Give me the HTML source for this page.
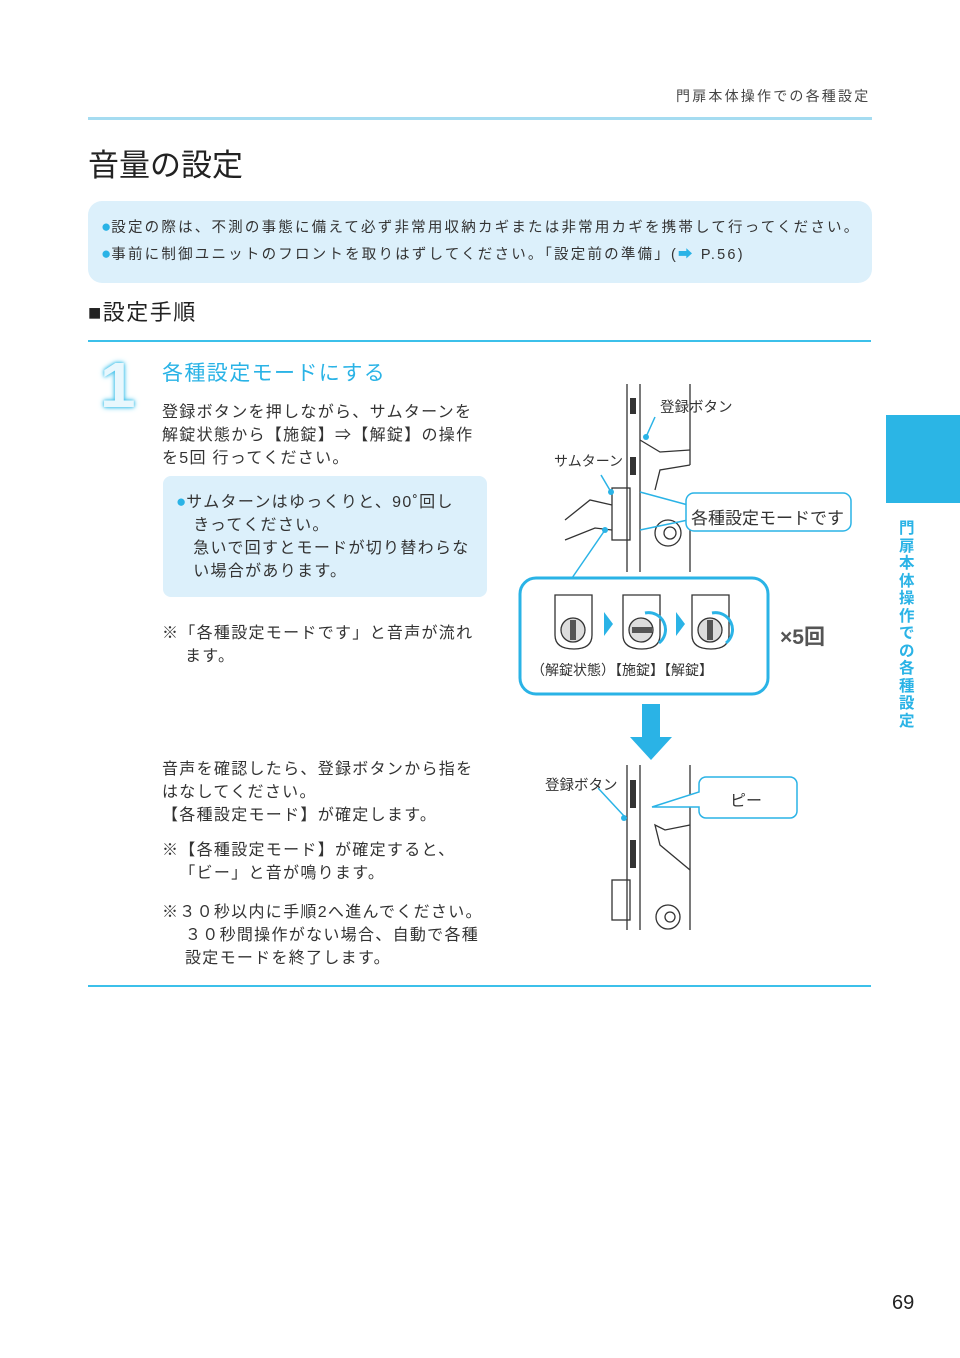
<!DOCTYPE html>
<html><head><meta charset="utf-8"><style>
body{margin:0;background:#fff;}
#p{position:relative;width:960px;height:1358px;overflow:hidden;font-family:"Liberation Sans","Noto Sans CJK JP",sans-serif;color:#333;}
.a{position:absolute;white-space:nowrap;}
.t{font-size:16px;letter-spacing:1.3px;line-height:23px;color:#333;}
.b{color:#2ab3e6;font-size:17px;letter-spacing:0;}
</style></head><body><div id="p">
<div class="a" style="left:676px;top:86px;font-size:14px;letter-spacing:2.2px;color:#444;">門扉本体操作での各種設定</div>
<div class="a" style="left:88px;top:117px;width:784px;height:3px;background:#8fd3ee;opacity:.8"></div>
<div class="a" style="left:88px;top:140px;font-size:31px;color:#222;">音量の設定</div>
<div class="a" style="left:88px;top:201px;width:784px;height:82px;background:#dcf0fb;border-radius:14px;"></div>
<div class="a" style="left:101px;top:214px;font-size:14.5px;letter-spacing:2.2px;line-height:25px;color:#333;"><span class="b">●</span>設定の際は、不測の事態に備えて必ず非常用収納カギまたは非常用カギを携帯して行ってください。<br><span class="b">●</span>事前に制御ユニットのフロントを取りはずしてください。「設定前の準備」(<span style="color:#2ab3e6">➡</span> P.56)</div>
<div class="a" style="left:88px;top:295px;font-size:22px;letter-spacing:1.5px;color:#222;">■設定手順</div>
<div class="a" style="left:88px;top:340px;width:783px;height:2px;background:#3cc0ea"></div>
<div class="a" style="left:88px;top:985px;width:783px;height:2px;background:#3cc0ea"></div>
<div class="a" style="left:100px;top:350px;font-size:64px;font-weight:bold;color:#e8f7fd;text-shadow:0 0 6px #3cc0ea,0 0 3px #3cc0ea;line-height:70px;">1</div>
<div class="a" style="left:162px;top:357px;font-size:21px;letter-spacing:1.4px;color:#2ab3e6;">各種設定モードにする</div>
<div class="a t" style="left:162px;top:401px;">登録ボタンを押しながら、サムターンを<br>解錠状態から【施錠】⇒【解錠】の操作<br>を5回 行ってください。</div>
<div class="a" style="left:163px;top:476px;width:324px;height:121px;background:#dcf0fb;border-radius:8px;"></div>
<div class="a t" style="left:176px;top:490px;"><span class="b">●</span>サムターンはゆっくりと、90˚回し<br>&nbsp;&nbsp;&nbsp;きってください。<br>&nbsp;&nbsp;&nbsp;急いで回すとモードが切り替わらな<br>&nbsp;&nbsp;&nbsp;い場合があります。</div>
<div class="a t" style="left:162px;top:622px;">※「各種設定モードです」と音声が流れ<br>&nbsp;&nbsp;&nbsp;&nbsp;ます。</div>
<div class="a t" style="left:162px;top:758px;">音声を確認したら、登録ボタンから指を<br>はなしてください。<br>【各種設定モード】が確定します。</div>
<div class="a t" style="left:162px;top:839px;">※【各種設定モード】が確定すると、<br>&nbsp;&nbsp;&nbsp;「ビー」と音が鳴ります。</div>
<div class="a t" style="left:162px;top:901px;">※３０秒以内に手順2へ進んでください。<br>&nbsp;&nbsp;&nbsp;&nbsp;３０秒間操作がない場合、自動で各種<br>&nbsp;&nbsp;&nbsp;&nbsp;設定モードを終了します。</div>
<div class="a" style="left:886px;top:415px;width:74px;height:88px;background:#2bb5e5"></div>
<div class="a" style="left:899px;top:520px;width:20px;font-size:15.5px;font-weight:bold;line-height:17.5px;color:#2ab3e6;white-space:normal;word-break:break-all;">門扉本体操作での各種設定</div>
<div class="a" style="left:892px;top:1292px;font-size:20px;color:#222;">69</div>
<svg class="a" style="left:0;top:0" width="960" height="1358">
<g stroke="#333" fill="none" stroke-width="1.3">
<line x1="627" y1="384" x2="627" y2="572"/><line x1="640" y1="384" x2="640" y2="572"/><line x1="690" y1="384" x2="690" y2="465"/><line x1="690" y1="530" x2="690" y2="572"/>
<rect x="612" y="488" width="18" height="52"/><circle cx="668" cy="533" r="13"/><circle cx="670" cy="533" r="6"/>
<path d="M690 450 L660 452 L640 440 M690 465 L660 470 L655 490"/>
<path d="M565 520 L590 500 L612 505 M565 540 L595 528 L612 530"/>
<line x1="627" y1="765" x2="627" y2="930"/><line x1="640" y1="765" x2="640" y2="930"/><line x1="690" y1="765" x2="690" y2="930"/>
<rect x="612" y="880" width="18" height="40"/><circle cx="668" cy="917" r="12"/><circle cx="670" cy="917" r="5"/>
<path d="M690 825 L665 830 L655 825 L660 845 L690 870"/>
</g>
<g fill="#333"><rect x="630" y="398" width="6" height="16"/><rect x="630" y="457" width="6" height="18"/><rect x="630" y="780" width="6" height="28"/><rect x="630" y="840" width="6" height="28"/></g>
<g stroke="#2ab3e6" stroke-width="1.5" fill="none">
<path d="M655 417 L646 437"/><path d="M601 475 L611 492"/><path d="M605 530 L572 578"/><path d="M598 788 L624 816"/>
<path d="M640 492 L688 505"/><path d="M640 530 L688 520"/>
</g>
<g fill="#2ab3e6"><circle cx="646" cy="437" r="3"/><circle cx="611" cy="492" r="3"/><circle cx="605" cy="530" r="3"/><circle cx="624" cy="818" r="3"/></g>
<rect x="686" y="493" width="165" height="38" rx="8" fill="#fff" stroke="#2ab3e6" stroke-width="1.5"/>
<rect x="520" y="578" width="248" height="116" rx="16" fill="#fff" stroke="#2ab3e6" stroke-width="3"/>
<g stroke="#333" fill="#fff" stroke-width="1.3">
<path d="M555 595 h37 v40 q0 14 -18 14 q-19 0 -19 -14 z"/><circle cx="573" cy="630" r="12" fill="#ddd"/>
<path d="M623 595 h37 v40 q0 14 -18 14 q-19 0 -19 -14 z"/><circle cx="641" cy="630" r="12" fill="#ddd"/>
<path d="M692 595 h37 v40 q0 14 -18 14 q-19 0 -19 -14 z"/><circle cx="710" cy="630" r="12" fill="#ddd"/>
</g>
<rect x="570" y="620" width="6" height="20" fill="#555"/><rect x="632" y="627" width="20" height="6" fill="#555"/><rect x="707" y="620" width="6" height="20" fill="#555"/>
<path d="M645 613 a17 17 0 0 1 14 30" stroke="#2ab3e6" stroke-width="3" fill="none"/>
<path d="M712 613 a17 17 0 0 1 14 30" stroke="#2ab3e6" stroke-width="3" fill="none"/>
<polygon points="604,612 613,624 604,636" fill="#2ab3e6"/><polygon points="676,612 685,624 676,636" fill="#2ab3e6"/>
<rect x="642" y="704" width="18" height="34" fill="#2ab3e6"/><polygon points="630,737 672,737 651,760" fill="#2ab3e6"/>
<path d="M706 777 h84 a7 7 0 0 1 7 7 v27 a7 7 0 0 1 -7 7 h-84 a7 7 0 0 1 -7 -7 v-4 L652 807 L699 792 v-8 a7 7 0 0 1 7 -7z" fill="#fff" stroke="#2ab3e6" stroke-width="1.5"/>
</svg>
<div class="a" style="left:660px;top:396px;font-size:14.5px;">登録ボタン</div>
<div class="a" style="left:554px;top:451px;font-size:14px;">サムターン</div>
<div class="a" style="left:691px;top:504px;font-size:17px;">各種設定モードです</div>
<div class="a" style="left:531px;top:660px;font-size:14px;">（解錠状態）【施錠】【解錠】</div>
<div class="a" style="left:780px;top:621px;font-size:21px;font-weight:bold;color:#555;">×5回</div>
<div class="a" style="left:545px;top:774px;font-size:14.5px;">登録ボタン</div>
<div class="a" style="left:730px;top:787px;font-size:16px;">ピー</div>
</div></body></html>
